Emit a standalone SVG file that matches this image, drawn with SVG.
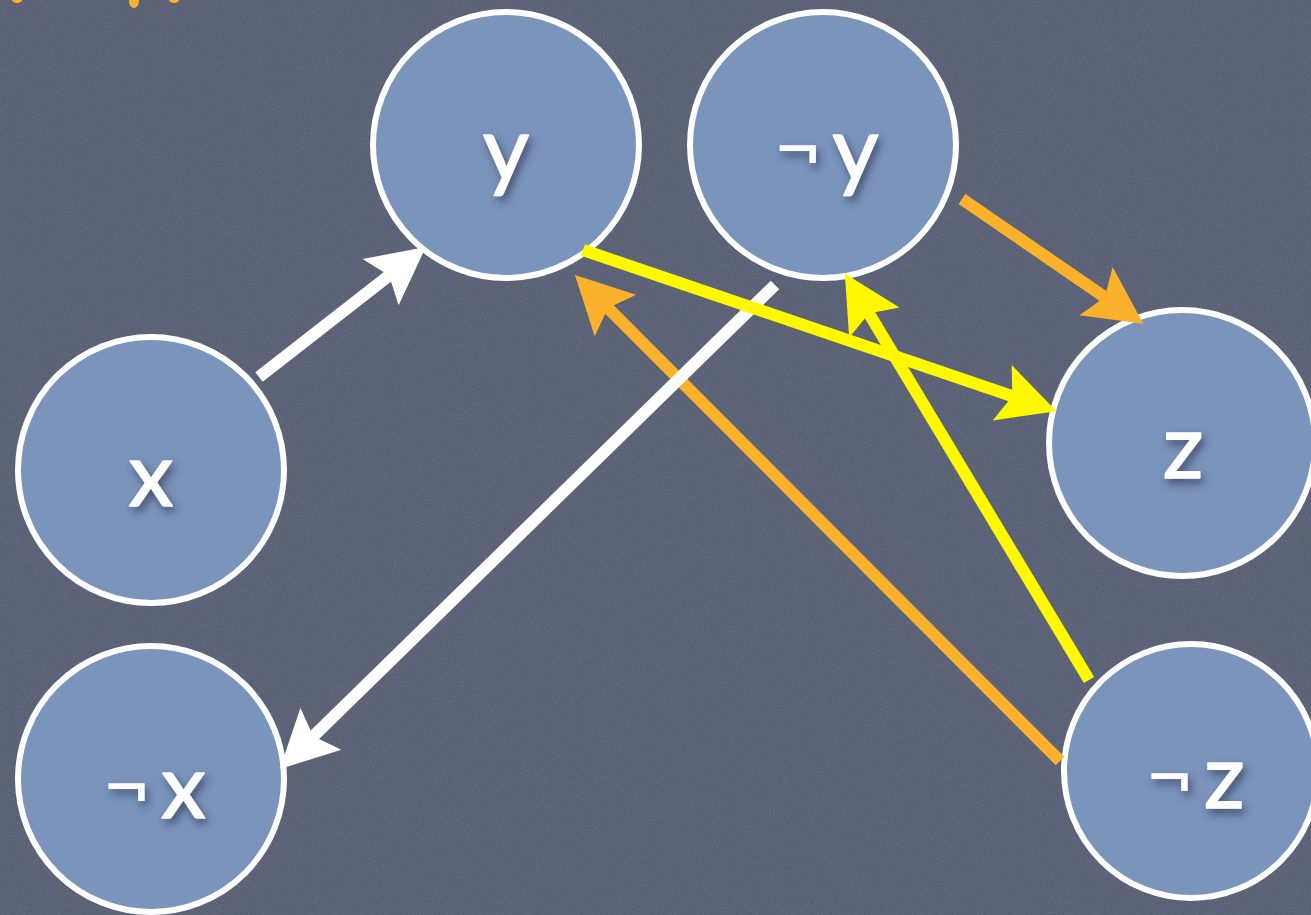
<svg xmlns="http://www.w3.org/2000/svg" width="1311" height="915" viewBox="0 0 1311 915">
  <style>
    .node { fill: #7b94bc; stroke: #ffffff; stroke-width: 6; }
    .lbl { font-family: Lato, "Open Sans", "DejaVu Sans", sans-serif; font-size: 90px; fill: #ffffff; stroke: #ffffff; stroke-width: 1.5; stroke-linejoin: round; text-anchor: middle; filter: url(#shadow); }
    .neg { font-size: 84px; stroke-width: 0; }
    .w { stroke: #ffffff; stroke-width: 12; fill: none; marker-end: url(#hw); }
    .o { stroke: #fbb12b; stroke-width: 12; fill: none; marker-end: url(#ho); }
    .yl { stroke: #fff800; stroke-width: 12; fill: none; marker-end: url(#hy); }
  </style>
  <defs>
    <filter id="noise" x="0" y="0" width="100%" height="100%">
      <feTurbulence type="fractalNoise" baseFrequency="0.9" numOctaves="2" seed="3" result="n"/>
      <feColorMatrix type="matrix" values="0 0 0 0 0.45  0 0 0 0 0.47  0 0 0 0 0.55  0 0 0 0.3 -0.08"/>
    </filter>
    <filter id="shadow" x="-30%" y="-30%" width="160%" height="160%">
      <feDropShadow dx="3" dy="5" stdDeviation="4" flood-color="#2b3652" flood-opacity="0.7"/>
    </filter>
    <marker id="hw" markerUnits="userSpaceOnUse" markerWidth="80" markerHeight="80" viewBox="-20 -30 60 60" refX="0" refY="0" orient="auto">
      <path d="M30,0 L-13,-22 L-5,0 L-13,22 Z" fill="#ffffff"/>
    </marker>
    <marker id="ho" markerUnits="userSpaceOnUse" markerWidth="80" markerHeight="80" viewBox="-20 -30 60 60" refX="0" refY="0" orient="auto">
      <path d="M30,0 L-13,-22 L-5,0 L-13,22 Z" fill="#fbb12b"/>
    </marker>
    <marker id="hy" markerUnits="userSpaceOnUse" markerWidth="80" markerHeight="80" viewBox="-20 -30 60 60" refX="0" refY="0" orient="auto">
      <path d="M30,0 L-13,-22 L-5,0 L-13,22 Z" fill="#fff800"/>
    </marker>
  </defs>

  <rect x="0" y="0" width="1311" height="915" fill="#565d71"/>
  <rect x="0" y="0" width="1311" height="915" filter="url(#noise)"/>

  <g id="title-fragments" fill="#fbb12b">
    <ellipse cx="17" cy="0" rx="5" ry="3"/>
    <ellipse cx="134" cy="1" rx="5" ry="7"/>
    <ellipse cx="174" cy="0" rx="5" ry="3"/>
  </g>

  <g id="node-y">
    <circle class="node" cx="506" cy="145" r="133"/>
    <text class="lbl" x="506" y="180">y</text>
  </g>
  <g id="node-not-y">
    <circle class="node" cx="823" cy="145" r="133"/>
    <text class="lbl" x="826" y="180"><tspan class="neg" dy="-4">¬</tspan><tspan dx="10" dy="4">y</tspan></text>
  </g>
  <g id="node-x">
    <circle class="node" cx="151" cy="470" r="133"/>
    <text class="lbl" x="151" y="506">x</text>
  </g>
  <g id="node-not-x">
    <circle class="node" cx="151" cy="779" r="133"/>
    <text class="lbl" x="154" y="818"><tspan class="neg" dy="-4">¬</tspan><tspan dx="10" dy="4">x</tspan></text>
  </g>
  <g id="node-z">
    <circle class="node" cx="1182" cy="443" r="133"/>
    <text class="lbl" x="1183" y="478">z</text>
  </g>
  <g id="node-not-z">
    <circle class="node" cx="1191" cy="771" r="127"/>
    <text class="lbl" x="1195" y="808"><tspan class="neg" dy="-4">¬</tspan><tspan dx="10" dy="4">z</tspan></text>
  </g>

  <g id="connectors">
    <line class="o" x1="962" y1="199" x2="1110.3" y2="301.0"/>
    <line class="o" x1="1060" y1="761" x2="603.2" y2="303.2"/>
    <line class="w" x1="259" y1="377" x2="394.3" y2="271.5"/>
    <line class="w" x1="775" y1="285" x2="308.5" y2="741.0"/>
    <line class="yl" x1="583" y1="250" x2="1018.6" y2="398.3"/>
    <line class="yl" x1="1089" y1="680" x2="865.4" y2="307.7"/>
  </g>
</svg>
